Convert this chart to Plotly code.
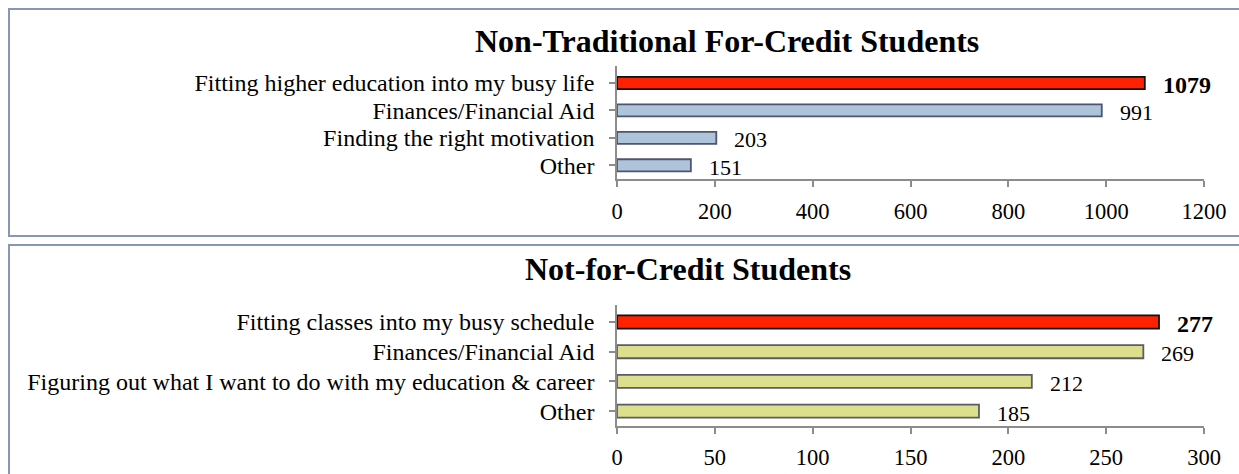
import plotly.graph_objects as go

W, H = 1239, 474

# ---- data ----
top_title = "Non-Traditional For-Credit Students"
top_cats = ["Fitting higher education into my busy life", "Finances/Financial Aid",
            "Finding the right motivation", "Other"]
top_vals = [1079, 991, 203, 151]
top_ticks = [0, 200, 400, 600, 800, 1000, 1200]

bot_title = "Not-for-Credit Students"
bot_cats = ["Fitting classes into my busy schedule", "Finances/Financial Aid",
            "Figuring out what I want to do with my education & career", "Other"]
bot_vals = [277, 269, 212, 185]
bot_ticks = [0, 50, 100, 150, 200, 250, 300]

RED = "#ff2200"
BLUE = "#aec4da"
YEL = "#dcdf8c"
FONT = "Liberation Serif"


def py(px):
    return 1 - px / H


def px_x(px):
    return px / W


fig = go.Figure()

top_colors = [RED] + [BLUE] * 3
bot_colors = [RED] + [YEL] * 3
top_lines = ["#111111"] + ["#4f5470"] * 3
bot_lines = ["#111111"] + ["#5a5c68"] * 3

fig.add_trace(go.Bar(
    x=top_vals, y=top_cats, orientation="h", xaxis="x", yaxis="y",
    marker=dict(color=top_colors, line=dict(color=top_lines, width=1.8)),
    width=0.44, hoverinfo="x+y", showlegend=False))
fig.add_trace(go.Bar(
    x=bot_vals, y=bot_cats, orientation="h", xaxis="x2", yaxis="y2",
    marker=dict(color=bot_colors, line=dict(color=bot_lines, width=1.8)),
    width=0.44, hoverinfo="x+y", showlegend=False))

annotations = []
for xa, ya, cats, vals in (("x", "y", top_cats, top_vals), ("x2", "y2", bot_cats, bot_vals)):
    for i, (c, v) in enumerate(zip(cats, vals)):
        annotations.append(dict(
            x=v, y=c, xref=xa, yref=ya, xanchor="left", yanchor="middle",
            xshift=16, yshift=-2, showarrow=False,
            text=f"<b>{v}</b>" if i == 0 else str(v),
            font=dict(family=FONT, size=24 if i == 0 else 22, color="#000")))

annotations.append(dict(x=px_x(727), y=py(41), xref="paper", yref="paper",
                        text=f"<b>{top_title}</b>", showarrow=False,
                        font=dict(family=FONT, size=32, color="#000"),
                        xanchor="center", yanchor="middle"))
annotations.append(dict(x=px_x(688), y=py(269), xref="paper", yref="paper",
                        text=f"<b>{bot_title}</b>", showarrow=False,
                        font=dict(family=FONT, size=32, color="#000"),
                        xanchor="center", yanchor="middle"))

xdom = [px_x(617), px_x(1204)]
axis_common = dict(showgrid=False, zeroline=False, showline=True, linecolor="#8c8c8c",
                   linewidth=1.5, ticks="outside", tickcolor="#8c8c8c", tickwidth=1.5,
                   fixedrange=True, automargin=False)
xfont = dict(family=FONT, size=22.5, color="#000")
yfont = dict(family=FONT, size=24, color="#000")

fig.update_layout(
    width=W, height=H, autosize=False, margin=dict(l=0, r=0, t=0, b=0, pad=0),
    paper_bgcolor="white", plot_bgcolor="white",
    xaxis=dict(domain=xdom, anchor="y", range=[0, 1200], tickvals=top_ticks,
               ticklen=6, ticklabelstandoff=5, ticklabeloverflow="allow", tickfont=xfont,
               **axis_common),
    yaxis=dict(domain=[py(179), py(66)], anchor="x", autorange="reversed",
               tickmode="array", tickvals=top_cats,
               ticklen=6, ticklabelstandoff=10, tickfont=yfont, **axis_common),
    xaxis2=dict(domain=xdom, anchor="y2", range=[0, 300], tickvals=bot_ticks,
                ticklen=6, ticklabelstandoff=4, ticklabeloverflow="allow", tickfont=xfont,
                **axis_common),
    yaxis2=dict(domain=[py(426), py(305)], anchor="x2", autorange="reversed",
                tickmode="array", tickvals=bot_cats,
                ticklen=6, ticklabelstandoff=10, tickfont=yfont, **axis_common),
    annotations=annotations,
    shapes=[
        dict(type="rect", xref="paper", yref="paper", x0=px_x(9), x1=1.05,
             y0=py(236), y1=py(9), line=dict(color="#8995b8", width=2), layer="below"),
        dict(type="rect", xref="paper", yref="paper", x0=px_x(9), x1=1.05,
             y0=py(480), y1=py(245), line=dict(color="#8995b8", width=2), layer="below"),
    ],
)

post = ("document.documentElement.style.margin='0';document.body.style.margin='0';"
        "document.documentElement.style.overflow='hidden';document.body.style.overflow='hidden';")

fig.write_html("out.html", post_script=post,
               config={"displayModeBar": False, "responsive": False})
